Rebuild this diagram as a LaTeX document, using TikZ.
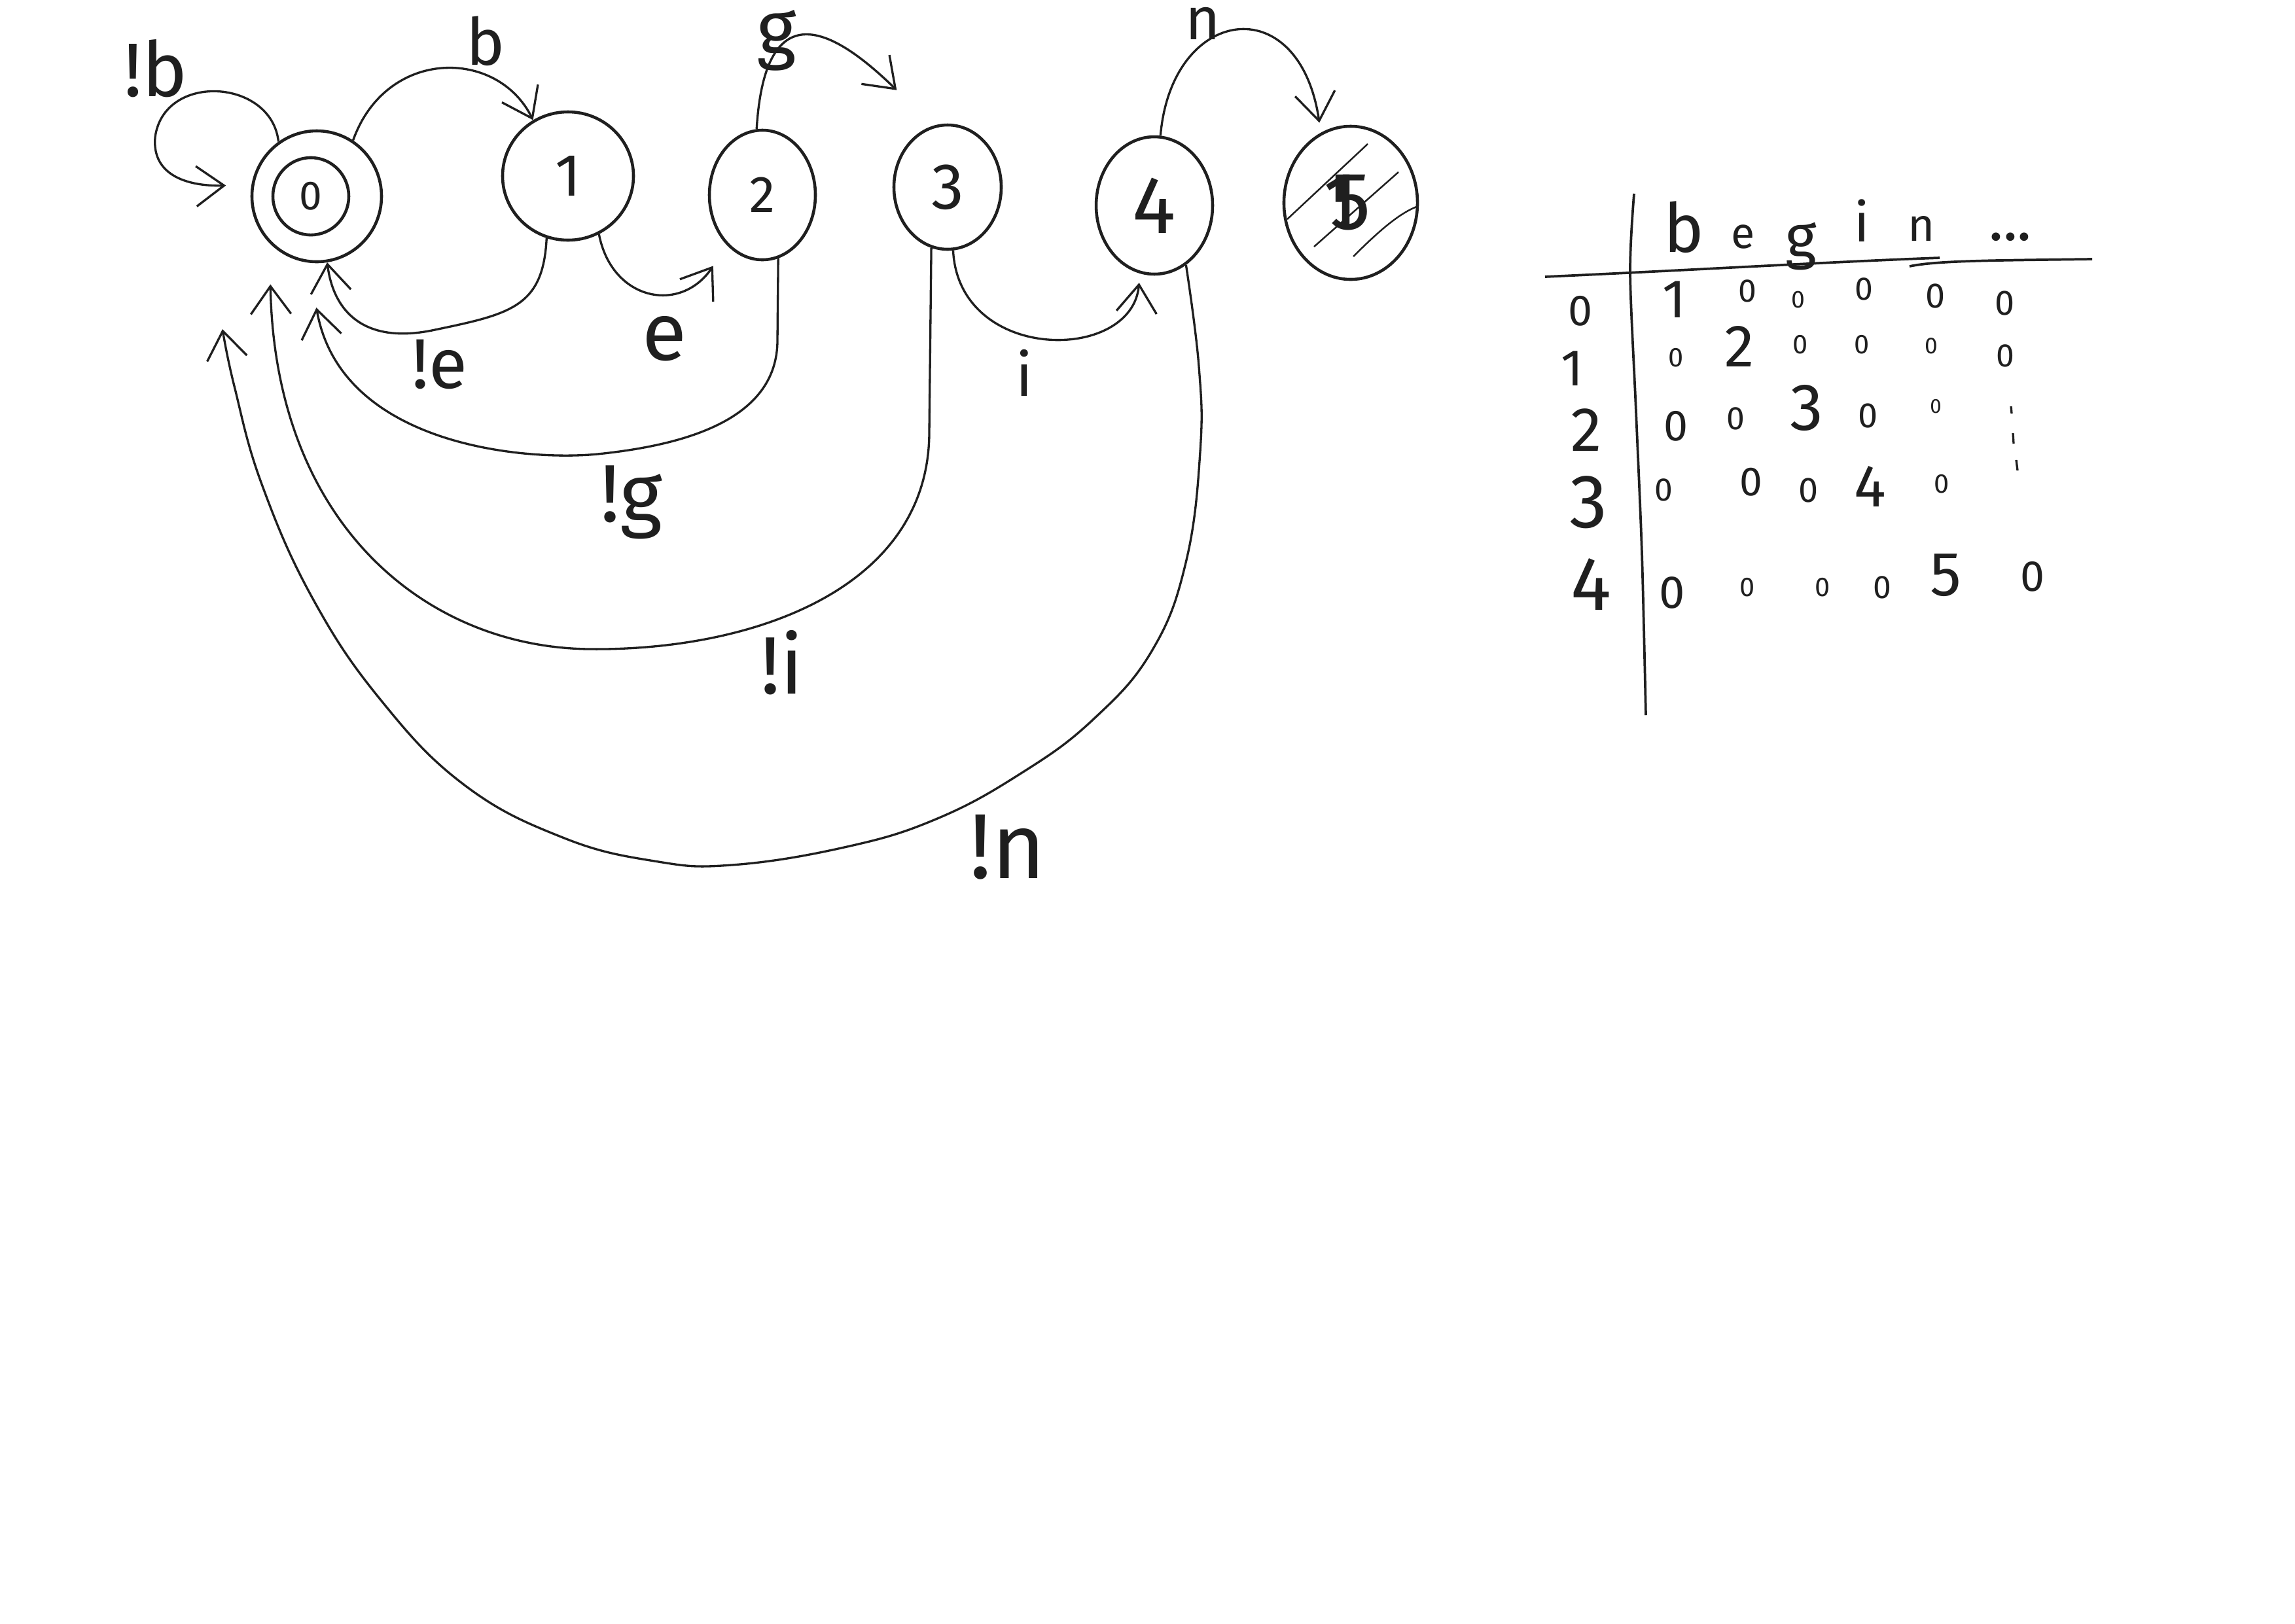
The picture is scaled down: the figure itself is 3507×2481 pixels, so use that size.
\documentclass[tikz,border=0pt]{standalone}
\usepackage{fontspec}
\setmainfont{Fira Sans}
\usetikzlibrary{arrows.meta,shapes.geometric}
\definecolor{ink}{gray}{0.12}
\newcommand{\myfs}[1]{\fontsize{#1}{#1}\selectfont}
\begin{document}
\begin{tikzpicture}[x=0.0084688cm,y=-0.0084688cm,
  stnode/.style={draw=ink,line width=1.1pt,ellipse,inner sep=0pt,text=ink},
  conn/.style={draw=ink,line width=0.8pt,-{Straight Barb[length=3.6mm,width=5.2mm]}},
  lbl/.style={text=ink,inner sep=0pt},
  tline/.style={draw=ink,line width=0.9pt},
  hatch/.style={draw=ink,line width=0.6pt},
  cell/.style={text=ink,inner sep=0pt}]
\fill[white] (0,0) rectangle (3507,2481);
\useasboundingbox (0,0) rectangle (3507,2481);

% ---------- states ----------
\node[stnode,minimum width=1.677cm,minimum height=1.694cm] (n0) at (484,300) {};
\node[stnode,minimum width=0.982cm,minimum height=1.0cm,font=\myfs{15}] (n0i) at (475,300) {0};
\node[stnode,minimum width=1.694cm,minimum height=1.660cm,font=\myfs{22}] (n1) at (868,269) {1};
\node[stnode,minimum width=1.372cm,minimum height=1.677cm,font=\myfs{19}] (n2) at (1165,298) {2};
\node[stnode,minimum width=1.389cm,minimum height=1.609cm,font=\myfs{24}] (n3) at (1448,286) {3};
\node[stnode,minimum width=1.507cm,minimum height=1.778cm,font=\myfs{30}] (n4) at (1764,314) {4};
\node[stnode,minimum width=1.728cm,minimum height=1.982cm,font=\myfs{30}] (n5) at (2064,310) {\makebox[0pt][l]{\kern-0.08em 1}5};

% hatching of the final state
\draw[hatch] (1967,335) -- (2090,220);
\draw[hatch] (2008,377) -- (2137,263);
\draw[hatch] (2068,392) .. controls (2110,350) and (2140,325) .. (2167,315);

% ---------- forward transitions ----------
\draw[conn,shorten >=0.33cm] (n0.125) .. controls (415,120) and (250,110) .. (237,210)
      .. controls (232,270) and (290,285) .. (n0.170);
\draw[conn] (n0.57) .. controls (590,73) and (760,73) .. (n1.122);
\draw[conn,shorten >=0.32cm] (n1.-62) .. controls (935,460) and (1040,480) .. (n2.-125);
\draw[conn,shorten >=0.66cm] (n2.95) .. controls (1170,-30) and (1290,60) .. (n3.103);
\draw[conn,shorten >=0.12cm] (n3.-85) .. controls (1465,555) and (1730,555) .. (n4.-102);
\draw[conn,shorten >=0.13cm] (n4.85) .. controls (1790,10) and (1985,-20) .. (n5.113);

% ---------- back transitions ----------
\draw[conn] (n1.-109) .. controls (830,470) and (780,480) .. (660,505)
      .. controls (560,525) and (510,480) .. (n0.-81);
\draw[conn,shorten >=0.59cm] (n2.-76) -- (1188,520) .. controls (1188,640) and (1050,680) .. (913,694)
      .. controls (800,705) and (520,680) .. (n0.-97);
\draw[conn,shorten >=0.53cm] (n3.-105) -- (1420,660) .. controls (1420,900) and (1150,995) .. (900,992)
      .. controls (650,989) and (420,800) .. (n0.-135);
\coordinate (tn) at (340,503);
\draw[conn] plot[smooth,tension=0.7] coordinates {(n4.-62) (1832,560) (1834,690) (1812,860) (1760,995)
      (1670,1100) (1560,1182) (1430,1252) (1290,1295) (1118,1322) (1000,1316) (860,1280) (710,1200)
      (582,1070) (478,915) (400,740) (358,590) (tn)};

% ---------- labels ----------
\node[lbl,font=\myfs{28}] (lb) at (238,105) {!b};
\node[lbl,font=\myfs{24}] (lbb) at (742,63) {b};
\node[lbl,font=\myfs{26}] (lne) at (672,557) {!e};
\node[lbl,font=\myfs{30}] (le) at (1015,518) {e};
\node[lbl,font=\myfs{28}] (lg) at (1187,62) {g};
\node[lbl,font=\myfs{30}] (lng) at (965,768) {!g};
\node[lbl,font=\myfs{22}] (li) at (1565,570) {i};
\node[lbl,font=\myfs{30}] (lni) at (1195,1013) {!i};
\node[lbl,font=\myfs{22}] (ln) at (1838,36) {n};
\node[lbl,font=\myfs{34}] (lnn) at (1540,1295) {!n};

% ---------- table ----------
\draw[tline] plot[smooth] coordinates {(2497,296) (2491,418) (2500,629) (2509,846) (2515,1093)};
\draw[tline] (2361,423) .. controls (2600,412) and (2800,400) .. (2964,394);
\draw[tline] (2918,407) .. controls (2960,398) and (3050,398) .. (3197,396);

\node[cell,font=\myfs{25}] (hb) at (2573,347) {b};
\node[cell,font=\myfs{16}] (he) at (2664,362) {e};
\node[cell,font=\myfs{22}] (hg) at (2752,376) {g};
\node[cell,font=\myfs{20}] (hi) at (2845,337) {i};
\node[cell,font=\myfs{17}] (hn) at (2936,349) {n};
\node[cell,font=\myfs{22}] (hd) at (3072,362) {...};

\node[cell,font=\myfs{16}] (r0) at (2415,475) {0};
\node[cell,font=\myfs{19}] (r1) at (2403,563) {1};
\node[cell,font=\myfs{23}] (r2) at (2424,657) {2};
\node[cell,font=\myfs{28}] (r3) at (2427,768) {3};
\node[cell,font=\myfs{28}] (r4) at (2431,893) {4};

% row 0
\node[cell,font=\myfs{20}] (c00) at (2558,458) {1};
\node[cell,font=\myfs{12}] (c01) at (2670,445) {0};
\node[cell,font=\myfs{9}] (c02) at (2748,458) {0};
\node[cell,font=\myfs{12}] (c03) at (2848,442) {0};
\node[cell,font=\myfs{13}] (c04) at (2958,452) {0};
\node[cell,font=\myfs{13}] (c05) at (3064,463) {0};
% row 1
\node[cell,font=\myfs{10}] (c10) at (2561,547) {0};
\node[cell,font=\myfs{22}] (c11) at (2658,529) {2};
\node[cell,font=\myfs{10}] (c12) at (2751,527) {0};
\node[cell,font=\myfs{10}] (c13) at (2845,527) {0};
\node[cell,font=\myfs{8.5}] (c14) at (2951,529) {0};
\node[cell,font=\myfs{12}] (c15) at (3064,544) {0};
% row 2
\node[cell,font=\myfs{16}] (c20) at (2561,651) {0};
\node[cell,font=\myfs{12}] (c21) at (2652,640) {0};
\node[cell,font=\myfs{24.5}] (c22) at (2761,624) {3};
\node[cell,font=\myfs{13}] (c23) at (2855,635) {0};
\node[cell,font=\myfs{7.5}] (c24) at (2958,621) {0};
\draw[hatch,line width=0.8pt] (3073,621) -- (3074,632);
\draw[hatch,line width=0.8pt] (3076,662) -- (3077,678);
\draw[hatch,line width=0.8pt] (3081,703) -- (3083,719);
% row 3
\node[cell,font=\myfs{12}] (c30) at (2542,749) {0};
\node[cell,font=\myfs{15}] (c31) at (2676,737) {0};
\node[cell,font=\myfs{13}] (c32) at (2764,749) {0};
\node[cell,font=\myfs{22}] (c33) at (2858,743) {4};
\node[cell,font=\myfs{10}] (c34) at (2967,740) {0};
% row 4
\node[cell,font=\myfs{17}] (c40) at (2555,906) {0};
\node[cell,font=\myfs{10}] (c41) at (2670,898) {0};
\node[cell,font=\myfs{10}] (c42) at (2785,898) {0};
\node[cell,font=\myfs{12}] (c43) at (2876,898) {0};
\node[cell,font=\myfs{23}] (c44) at (2973,879) {5};
\node[cell,font=\myfs{16}] (c45) at (3106,881) {0};
\end{tikzpicture}
\end{document}
